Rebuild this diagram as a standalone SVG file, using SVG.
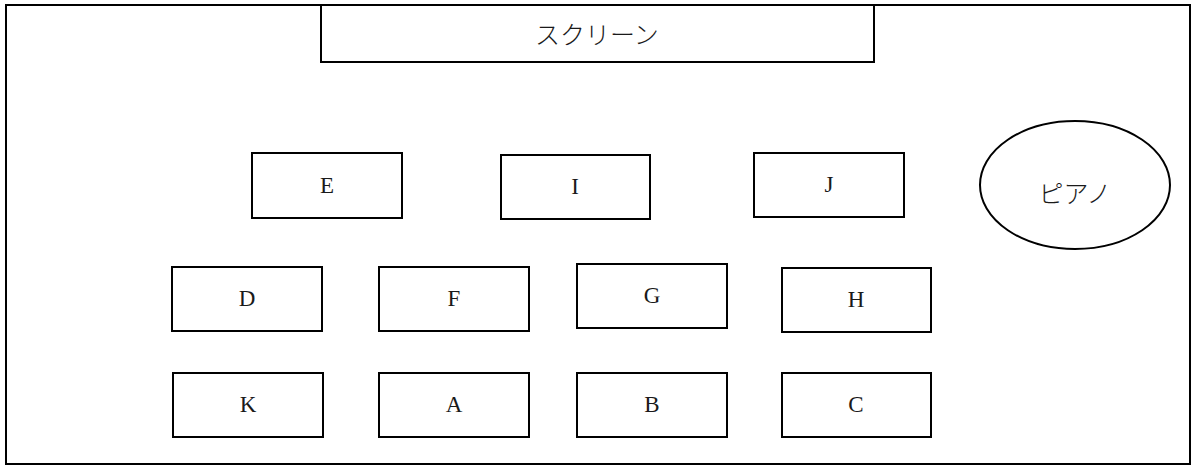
<svg xmlns="http://www.w3.org/2000/svg" width="1192" height="466" viewBox="0 0 1192 466">
<style>
.b{fill:#fff;stroke:#000;stroke-width:2}
.t{font-family:"Liberation Serif","Noto Sans CJK JP",serif;font-size:23px;fill:#1a1a1a;text-anchor:middle}
.j{font-family:"Noto Sans CJK JP","Liberation Serif",sans-serif;font-size:25px;fill:#1a1a1a;text-anchor:middle;font-weight:300}
</style>
<rect width="1192" height="466" fill="#fff"/>
<g id="room"><rect class="b" x="6" y="5" width="1184" height="459"/></g>
<g id="screen"><rect class="b" x="321" y="5" width="553" height="57"/><text class="j" x="597" y="44">スクリーン</text></g>
<g id="E"><rect class="b" x="252" y="153" width="150" height="65"/><text class="t" x="327" y="193">E</text></g>
<g id="I"><rect class="b" x="501" y="155" width="149" height="64"/><text class="t" x="575" y="194">I</text></g>
<g id="J"><rect class="b" x="754" y="153" width="150" height="64"/><text class="t" x="829" y="192">J</text></g>
<g id="piano"><ellipse class="b" cx="1075" cy="185" rx="95" ry="64"/><text class="j" x="1075" y="203">ピアノ</text></g>
<g id="D"><rect class="b" x="172" y="267" width="150" height="64"/><text class="t" x="247" y="306">D</text></g>
<g id="F"><rect class="b" x="379" y="267" width="150" height="64"/><text class="t" x="454" y="306">F</text></g>
<g id="G"><rect class="b" x="577" y="264" width="150" height="64"/><text class="t" x="652" y="303">G</text></g>
<g id="H"><rect class="b" x="782" y="268" width="149" height="64"/><text class="t" x="856" y="307">H</text></g>
<g id="K"><rect class="b" x="173" y="373" width="150" height="64"/><text class="t" x="248" y="412">K</text></g>
<g id="A"><rect class="b" x="379" y="373" width="150" height="64"/><text class="t" x="454" y="412">A</text></g>
<g id="B"><rect class="b" x="577" y="373" width="150" height="64"/><text class="t" x="652" y="412">B</text></g>
<g id="C"><rect class="b" x="782" y="373" width="149" height="64"/><text class="t" x="856" y="412">C</text></g>
<g id="connectors"></g>
</svg>
